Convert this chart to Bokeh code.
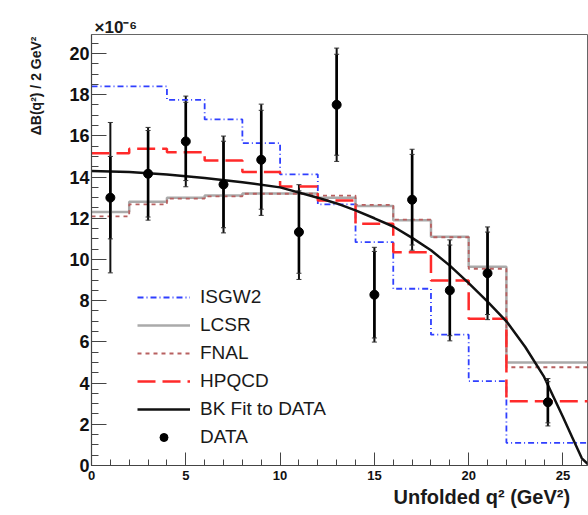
import math
from bokeh.plotting import figure
from bokeh.models import (Range1d, ColumnDataSource, Whisker, TeeHead, Title,
                          Legend, LegendItem, FixedTicker)
from bokeh.embed import file_html
from bokeh.resources import INLINE

# ---------------- data (units of 1e-6) ----------------
bin_edges = [0, 2, 4, 6, 8, 10, 12, 14, 16, 18, 20, 22, 26.4]
isgw2 = [18.4, 18.4, 17.75, 16.8, 15.65, 14.13, 12.67, 10.84, 8.58, 6.35, 4.1, 1.1]
lcsr = [12.3, 12.8, 13.0, 13.1, 13.2, 13.2, 13.0, 12.6, 11.9, 11.1, 9.65, 5.0]
fnal = [12.09, 12.67, 12.95, 13.06, 13.19, 13.19, 13.1, 12.65, 11.93, 11.08, 9.55, 4.77]
hpqcd = [15.16, 15.37, 15.2, 14.8, 14.24, 13.54, 12.86, 11.73, 10.35, 8.98, 7.12, 3.12]

q2_fit = [0, 2, 4, 6, 8, 10, 12, 13, 14, 15, 16, 17, 18, 19, 20, 21, 22, 23, 24, 25, 25.5, 26, 26.4]
bk_fit = [14.3, 14.25, 14.12, 13.95, 13.75, 13.5, 13.0, 12.72, 12.38, 12.0, 11.6, 11.05, 10.45,
          9.7, 8.85, 7.95, 7.0, 5.75, 4.3, 2.35, 1.35, 0.35, 0.0]

q2_data = [1, 3, 5, 7, 9, 11, 13, 15, 17, 19, 21, 24.2]
data_val = [13.0, 14.16, 15.73, 13.64, 14.84, 11.33, 17.51, 8.29, 12.9, 8.5, 9.33, 3.07]
err_stat = [2.0, 2.1, 1.9, 2.1, 2.4, 2.0, 2.45, 2.1, 2.2, 2.2, 2.0, 1.0]
err_tot = [3.65, 2.25, 2.2, 2.35, 2.7, 2.3, 2.75, 2.3, 2.45, 2.45, 2.25, 1.15]

x_ticks = [0, 5, 10, 15, 20, 25]
y_ticks = [0, 2, 4, 6, 8, 10, 12, 14, 16, 18, 20]

# ---------------- figure ----------------
p = figure(width=588, height=515, output_backend="svg", toolbar_location=None,
           x_range=Range1d(0, 26.3), y_range=Range1d(0, 20.92),
           min_border_left=91, min_border_right=1, min_border_top=34, min_border_bottom=50)
p.background_fill_color = "white"
p.border_fill_color = "white"
p.outline_line_color = "#666666"
p.outline_line_width = 1
p.grid.visible = False

for ax in (p.xaxis[0], p.yaxis[0]):
    ax.axis_line_color = "#444444"
    ax.axis_line_width = 1.2
    ax.major_tick_out = 0
    ax.minor_tick_out = 0
    ax.major_tick_line_color = "#444444"
    ax.minor_tick_line_color = "#444444"
    ax.major_label_text_color = "#111111"
    ax.major_label_text_font = "Liberation Sans"
    ax.major_label_text_font_style = "bold"

p.xaxis[0].ticker = FixedTicker(ticks=x_ticks, minor_ticks=list(range(0, 27)))
p.yaxis[0].ticker = FixedTicker(ticks=y_ticks, minor_ticks=[i * 0.5 for i in range(0, 42)])
p.xaxis.major_tick_in = 13
p.xaxis.minor_tick_in = 6
p.yaxis.major_tick_in = 15
p.yaxis.minor_tick_in = 7
p.xaxis.major_label_text_font_size = "13px"
p.yaxis.major_label_text_font_size = "18px"
p.xaxis.major_label_standoff = 5
p.yaxis.major_label_standoff = 2

# ---------------- histograms ----------------
def step_y(vals):
    return list(vals) + [vals[-1]]

r_isgw2 = p.step(bin_edges, step_y(isgw2), mode="after", line_color="#2f3fff",
                 line_width=1.8, line_dash="6 3 1 3")
r_lcsr = p.step(bin_edges, step_y(lcsr), mode="after", line_color="#aaaaaa",
                line_width=2.5)
r_fnal = p.step(bin_edges, step_y(fnal), mode="after", line_color="#b86060",
                line_width=1.8, line_dash="4 4")
r_hpqcd = p.step(bin_edges, step_y(hpqcd), mode="after", line_color="#ff2a2a",
                 line_width=2.5, line_dash="18 7")

# ---------------- fit ----------------
r_fit = p.line(q2_fit, bk_fit, line_color="#111111", line_width=2.5)

# ---------------- data with errors ----------------
src = ColumnDataSource(dict(
    x=q2_data, y=data_val,
    lo_t=[v - e for v, e in zip(data_val, err_tot)],
    hi_t=[v + e for v, e in zip(data_val, err_tot)],
    lo_s=[v - e for v, e in zip(data_val, err_stat)],
    hi_s=[v + e for v, e in zip(data_val, err_stat)],
))
w = Whisker(source=src, base="x", lower="lo_t", upper="hi_t", line_color="#111111",
            line_width=2,
            upper_head=TeeHead(size=5, line_width=1, line_color="#333333"),
            lower_head=TeeHead(size=5, line_width=1, line_color="#333333"))
p.add_layout(w)
p.segment(x0="x", y0="lo_s", x1="x", y1="hi_s", source=src, line_color="black", line_width=2.6)
p.scatter(x="x", y="lo_s", source=src, marker="dash", size=5, line_color="#333333", line_width=1)
p.scatter(x="x", y="hi_s", source=src, marker="dash", size=5, line_color="#333333", line_width=1)
r_data = p.scatter(x="x", y="y", source=src, marker="circle", size=9,
                   fill_color="black", line_color="black")

# ---------------- legend ----------------
legend = Legend(items=[
    LegendItem(label="ISGW2", renderers=[r_isgw2]),
    LegendItem(label="LCSR", renderers=[r_lcsr]),
    LegendItem(label="FNAL", renderers=[r_fnal]),
    LegendItem(label="HPQCD", renderers=[r_hpqcd]),
    LegendItem(label="BK Fit to DATA", renderers=[r_fit]),
    LegendItem(label="DATA", renderers=[r_data]),
], location=(46, 17), orientation="vertical", padding=0, margin=0,
    spacing=6, glyph_width=53, glyph_height=20, label_height=20,
    label_standoff=10, label_text_font="Liberation Sans", label_text_font_size="19px",
    label_text_color="#1a1a1a", border_line_alpha=0, background_fill_alpha=0)
p.add_layout(legend)

# ---------------- titles ----------------
p.add_layout(Title(text="ΔB(q²) / 2 GeV²", align="right", offset=2, standoff=46,
                   text_font="Liberation Sans", text_font_style="bold",
                   text_font_size="14px", text_color="#1a1a1a"), "left")
p.add_layout(Title(text="×10⁻⁶", align="left", offset=3, standoff=-5,
                   text_font="Liberation Sans", text_font_style="bold",
                   text_font_size="17px", text_color="#1a1a1a"), "above")
p.add_layout(Title(text="Unfolded q² (GeV²)", align="left", offset=302, standoff=3,
                   text_font="Liberation Sans", text_font_style="bold",
                   text_font_size="20px", text_color="#1a1a1a"), "below")

open("out.html", "w").write(file_html(p, INLINE))
